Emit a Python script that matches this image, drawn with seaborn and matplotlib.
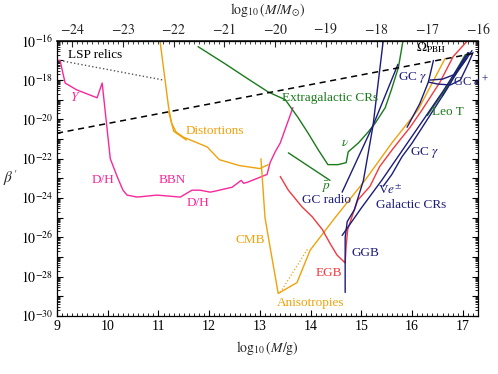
import numpy as np
import matplotlib
matplotlib.use("Agg")
import matplotlib.pyplot as plt
import seaborn as sns
from matplotlib.ticker import (LogLocator, MultipleLocator, FixedLocator, FuncFormatter,
                               NullFormatter)

# --- data: x = log10(M/g), y = log10(beta') ---
bbn_x = [9.0, 9.06, 9.16, 9.39, 9.79, 9.89, 10.05, 10.2, 10.3, 10.38, 10.58, 10.97, 11.43,
         11.66, 11.82, 12.02, 12.2, 12.45, 12.58, 12.63, 12.68, 12.75, 13.04, 13.14, 13.2,
         13.3, 13.4, 13.65]
bbn_y = [-17.0, -17.0, -18.15, -18.5, -18.9, -18.15, -22.0, -23.0, -23.6, -23.85, -23.95,
         -23.85, -23.95, -23.6, -23.6, -23.7, -23.6, -23.45, -23.2, -23.1, -23.25, -23.2,
         -22.9, -22.8, -22.2, -21.65, -21.2, -19.4]

dist_x = [11.03, 11.13, 11.2, 11.26, 11.35, 11.49, 11.96, 12.2, 12.6, 13.0, 13.16]
dist_y = [-16.0, -18.0, -19.4, -20.2, -20.65, -20.9, -21.4, -22.05, -22.35, -22.5, -22.3]
dist2_x = [11.2, 11.3, 11.55]
dist2_y = [-19.6, -20.6, -21.05]

cmb_x = [13.02, 13.06, 13.1, 13.2, 13.36, 13.73, 13.99, 14.48, 15.07, 15.6, 16.12, 16.65]
cmb_y = [-22.0, -23.5, -25.0, -26.5, -28.85, -28.3, -26.65, -25.0, -23.1, -21.2, -19.5, -16.9]
aniso_x = [13.4, 13.95]
aniso_y = [-28.8, -26.55]

egb_x = [13.4, 13.56, 13.83, 14.03, 14.23, 14.38, 14.52, 14.68, 14.7, 14.73, 14.82, 14.93,
         15.17, 15.36, 15.62, 15.96, 16.2, 16.55, 16.81, 17.09]
egb_y = [-22.9, -23.6, -24.45, -24.95, -25.6, -26.3, -26.9, -27.3, -26.4, -25.6, -24.9,
         -24.1, -23.4, -22.4, -21.5, -20.4, -19.5, -18.1, -16.8, -16.0]

egcr_x = [11.78, 12.3, 12.8, 13.16, 13.5, 13.75, 13.95, 14.15, 14.34, 14.54, 14.7, 14.74,
          14.94, 15.13, 15.27, 15.47, 15.59, 15.73, 15.82]
egcr_y = [-16.3, -17.15, -18.0, -18.6, -19.0, -19.9, -20.7, -21.55, -22.3, -22.3, -22.2,
          -21.65, -21.2, -20.65, -20.2, -19.4, -18.5, -17.35, -16.0]
pbar_x = [13.56, 14.38]
pbar_y = [-21.7, -23.1]
leot_x = [16.3, 17.09]
leot_y = [-19.8, -16.85]
green2_x = [16.6, 16.85, 17.05]
green2_y = [-18.8, -17.6, -16.7]

ggb_x = [14.68, 14.68, 14.72, 14.86, 15.04, 15.23, 15.43]
ggb_y = [-28.8, -26.0, -25.2, -24.6, -23.1, -20.3, -16.0]
gcradio_x = [14.62, 15.23, 15.72]
gcradio_y = [-23.7, -20.3, -17.2]
galcr_x = [14.62, 15.0, 15.4, 15.8, 16.2, 16.6, 17.0, 17.1]
galcr_y = [-25.9, -24.5, -23.1, -21.6, -20.1, -18.6, -17.0, -16.6]
ve_x = [15.43, 15.6, 15.8, 16.0, 16.15, 16.4, 16.7, 16.95, 17.12]
ve_y = [-23.4, -22.8, -21.9, -21.2, -20.6, -19.6, -18.4, -17.3, -16.6]
gcg_x = [16.42, 16.32, 16.15, 15.9]
gcg_y = [-17.0, -18.1, -19.2, -20.4]
gce1_x = [16.32, 16.5, 16.75, 16.95, 17.1, 17.2]
gce1_y = [-18.1, -18.2, -18.25, -18.0, -17.2, -16.6]
gce2_x = [16.35, 16.6, 16.85, 17.05, 17.18]
gce2_y = [-18.0, -17.95, -17.7, -17.0, -16.5]

lsp_x = [9.05, 11.1]
lsp_y = [-17.0, -18.0]
omega_x = [9.0, 17.3]
omega_y = [-20.7, -16.6]

top_ticks = [-24, -23, -22, -21, -20, -19, -18, -17, -16]

# --- style ---
sns.set_theme(style="ticks")
plt.rcParams["font.family"] = ["Liberation Serif", "DejaVu Serif"]
plt.rcParams["mathtext.fontset"] = "stix"
plt.rcParams["font.size"] = 9.5

PINK = "#f8289a"
ORANGE = "#eea20b"
GREEN = "#1b7a1b"
NAVY = "#1c1c7a"
RED = "#f2393f"

fig = plt.figure(figsize=(4.98, 3.74), dpi=100)
ax = fig.add_axes([0.1145, 0.155, 0.8455, 0.736])
ax.set_yscale("log")


def draw(x, y, color, ls="-", lw=1.0):
    sns.lineplot(x=x, y=10.0 ** np.asarray(y), sort=False, estimator=None,
                 color=color, linestyle=ls, lw=lw, ax=ax)


draw(bbn_x, bbn_y, PINK)
draw(dist_x, dist_y, ORANGE)
draw(dist2_x, dist2_y, ORANGE)
draw(cmb_x, cmb_y, ORANGE)
draw(aniso_x, aniso_y, ORANGE, ls=":", lw=0.9)
draw(egb_x, egb_y, RED)
draw(egcr_x, egcr_y, GREEN)
draw(pbar_x, pbar_y, GREEN)
draw(leot_x, leot_y, GREEN)
draw(green2_x, green2_y, GREEN)
for xs, ys in [(ggb_x, ggb_y), (gcradio_x, gcradio_y), (galcr_x, galcr_y),
               (ve_x, ve_y), (gcg_x, gcg_y), (gce1_x, gce1_y), (gce2_x, gce2_y)]:
    draw(xs, ys, NAVY)
draw(lsp_x, lsp_y, "#555555", ls=":", lw=1.0)
draw(omega_x, omega_y, "black", ls=(0, (4, 3)), lw=1.1)

# --- labels on curves ---
def label(x, logy, s, color, ha="center", size=9.5, **kw):
    ax.text(x, 10.0 ** logy, s, color=color, ha=ha, va="center", fontsize=size, **kw)


label(9.22, -16.73, "LSP relics", "black", ha="left")
label(9.36, -18.87, r"$Y$", PINK)
label(9.91, -23.08, "D/H", PINK)
label(11.27, -23.08, "BBN", PINK)
label(11.78, -24.25, "D/H", PINK)
label(12.12, -20.6, "Distortions", ORANGE)
label(12.81, -26.13, "CMB", ORANGE)
label(13.99, -29.33, "Anisotropies", ORANGE)
label(14.35, -27.8, "EGB", RED)
label(15.07, -26.8, "GGB", NAVY)
label(14.31, -24.1, "GC radio", NAVY)
label(14.29, -23.44, r"$\bar{p}$", GREEN)
label(14.68, -21.2, r"$\nu$", GREEN)
label(14.38, -18.92, "Extragalactic CRs", GREEN)
label(16.38, -16.37, r"$\Omega_{\rm PBH}$", "black")
label(16.02, -17.85, r"GC $\gamma$", NAVY)
label(16.8, -18.1, r"GC $e^+$", NAVY, ha="left", size=9)
label(16.71, -19.63, "Leo T", GREEN)
label(16.24, -21.66, r"GC $\gamma$", NAVY)
label(15.57, -23.6, r"V$e^{\pm}$", NAVY)
label(15.98, -24.35, "Galactic CRs", NAVY)

# --- axes ---
ax.set_xlim(9, 17.3)
ax.set_ylim(1e-30, 1e-16)
ax.xaxis.set_major_locator(MultipleLocator(1))
ax.xaxis.set_minor_locator(MultipleLocator(0.1))
ax.yaxis.set_major_locator(LogLocator(base=10, numticks=30))
ax.yaxis.set_minor_locator(LogLocator(base=10, subs=np.arange(2, 10), numticks=30))
ax.yaxis.set_minor_formatter(NullFormatter())


def ylab(v, pos):
    e = int(round(np.log10(v)))
    return r"$10^{%d}$" % e if e % 2 == 0 else ""


ax.yaxis.set_major_formatter(FuncFormatter(ylab))
ax.tick_params(which="both", direction="in", top=False, right=True, colors="black",
               labelsize=10, pad=3)
ax.tick_params(which="major", length=4, width=0.8)
ax.tick_params(which="minor", length=2, width=0.6)
for s in ax.spines.values():
    s.set_linewidth(0.9)
    s.set_color("black")

ax.set_xlabel(r"$\log_{10}(M/\mathrm{g})$", fontsize=10, labelpad=4)
ax.set_ylabel(r"$\beta'$", fontsize=11, rotation=0, va="center", ha="center")
ax.yaxis.set_label_coords(-0.112, 0.5)

lmsun = 33.2986
top = ax.secondary_xaxis("top", functions=(lambda x: x - lmsun, lambda x: x + lmsun))
top.xaxis.set_major_locator(FixedLocator(top_ticks))
top.xaxis.set_minor_locator(FixedLocator(np.arange(-24.2, -15.95, 0.1)))
top.xaxis.set_major_formatter(FuncFormatter(lambda v, p: "$%d$" % round(v)))
top.tick_params(which="both", direction="in", labelsize=10, pad=3)
top.tick_params(which="major", length=4, width=0.8)
top.tick_params(which="minor", length=2, width=0.6)
top.set_xlabel(r"$\log_{10}(M/M_{\odot})$", fontsize=10, labelpad=5)

fig.savefig("out.png", dpi=100)
